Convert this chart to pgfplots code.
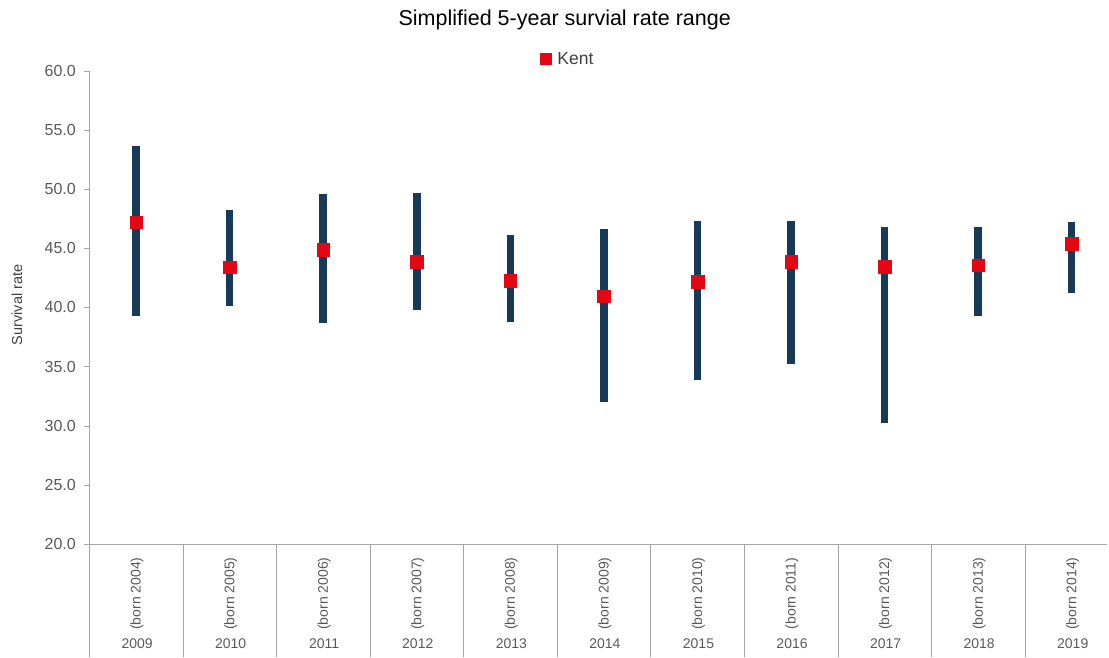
\documentclass[border=0pt]{standalone}
\usepackage{fontspec}
\setmainfont{Liberation Sans}
\usepackage{pgfplots}
\usepackage{pgfplotstable}
\pgfplotsset{compat=1.18}
\definecolor{navy}{HTML}{173A57}
\definecolor{kentred}{HTML}{E30613}
\definecolor{axgray}{HTML}{A6A6A6}
\definecolor{txtgray}{HTML}{595959}
\definecolor{lbl}{HTML}{404040}
\newcommand{\lab}[2]{\rotatebox{90}{\makebox[72pt]{(born #1)}}\\[2pt]#2}

\pgfplotstableread{
x lo hi kent
0 39.3 53.6 47.2
1 40.1 48.2 43.4
2 38.65 49.6 44.85
3 39.75 49.7 43.85
4 38.75 46.1 42.25
5 32.0 46.6 40.95
6 33.85 47.3 42.15
7 35.25 47.3 43.85
8 30.25 46.8 43.45
9 39.25 46.8 43.55
10 41.2 47.2 45.4
}\data

\begin{document}
\begin{tikzpicture}
\useasboundingbox (-89.3pt,-113pt) rectangle (1019.7pt,544pt);
\begin{axis}[
  at={(0,0)}, anchor=south west,
  scale only axis, width=1018pt, height=473.3pt,
  xmin=-0.5, xmax=10.38, ymin=20, ymax=60,
  clip=false,
  axis x line=bottom, axis y line=left,
  axis line style={-, draw=axgray},
  ytick={20,25,...,60},
  tick align=outside, major tick length=5pt,
  tick style={draw=axgray},
  xtick style={draw=none},
  xtick={0,...,10},
  xticklabels={
    {\lab{2004}{2009}}, {\lab{2005}{2010}}, {\lab{2006}{2011}},
    {\lab{2007}{2012}}, {\lab{2008}{2013}}, {\lab{2009}{2014}},
    {\lab{2010}{2015}}, {\lab{2011}{2016}}, {\lab{2012}{2017}},
    {\lab{2013}{2018}}, {\lab{2014}{2019}}},
  xticklabel style={align=center, anchor=north, yshift=-5pt, xshift=1pt, text=txtgray,
    font=\fontsize{14}{16.5}\selectfont},
  yticklabel style={text=txtgray, font=\fontsize{16}{19}\selectfont, xshift=-5pt},
  /pgf/number format/assume math mode=true,
  y tick label style={/pgf/number format/.cd, fixed, fixed zerofill, precision=1},
  ylabel={Survival rate},
  ylabel style={at={(axis description cs:-0.071,0.505)}, anchor=center, text=lbl,
    font=\fontsize{14.5}{17}\selectfont},
  title={Simplified 5-year survial rate range},
  every axis title shift=0pt,
  title style={at={(axis description cs:0.467,1.107)}, anchor=center, yshift=0pt,
    font=\fontsize{21.5}{25}\selectfont},
  legend style={at={(axis description cs:0.470,1.0247)}, anchor=center, draw=none,
    font=\fontsize{17.5}{20}\selectfont, text=lbl},
  legend image code/.code={\fill[kentred] (0pt,-5pt) rectangle (10.5pt,5.5pt);
    \path (15pt,0pt);},
]
\pgfplotsinvokeforeach{-0.5,0.5,...,9.5}{
  \draw[axgray] (axis cs:#1,20) -- ([yshift=-113pt]axis cs:#1,20);
}
\addplot[forget plot, draw=none, mark=none,
  error bars/.cd, y dir=both, y explicit,
  error bar style={line width=7.5pt, draw=navy}, error mark=none]
  table[x=x, y expr=(\thisrow{lo}+\thisrow{hi})/2,
        y error expr=(\thisrow{hi}-\thisrow{lo})/2] {\data};
\addplot[only marks, mark=square*, mark size=6.3pt,
  mark options={fill=kentred, draw=kentred}]
  table[x=x, y=kent] {\data};
\addlegendentry{Kent}
\end{axis}
\end{tikzpicture}
\end{document}
